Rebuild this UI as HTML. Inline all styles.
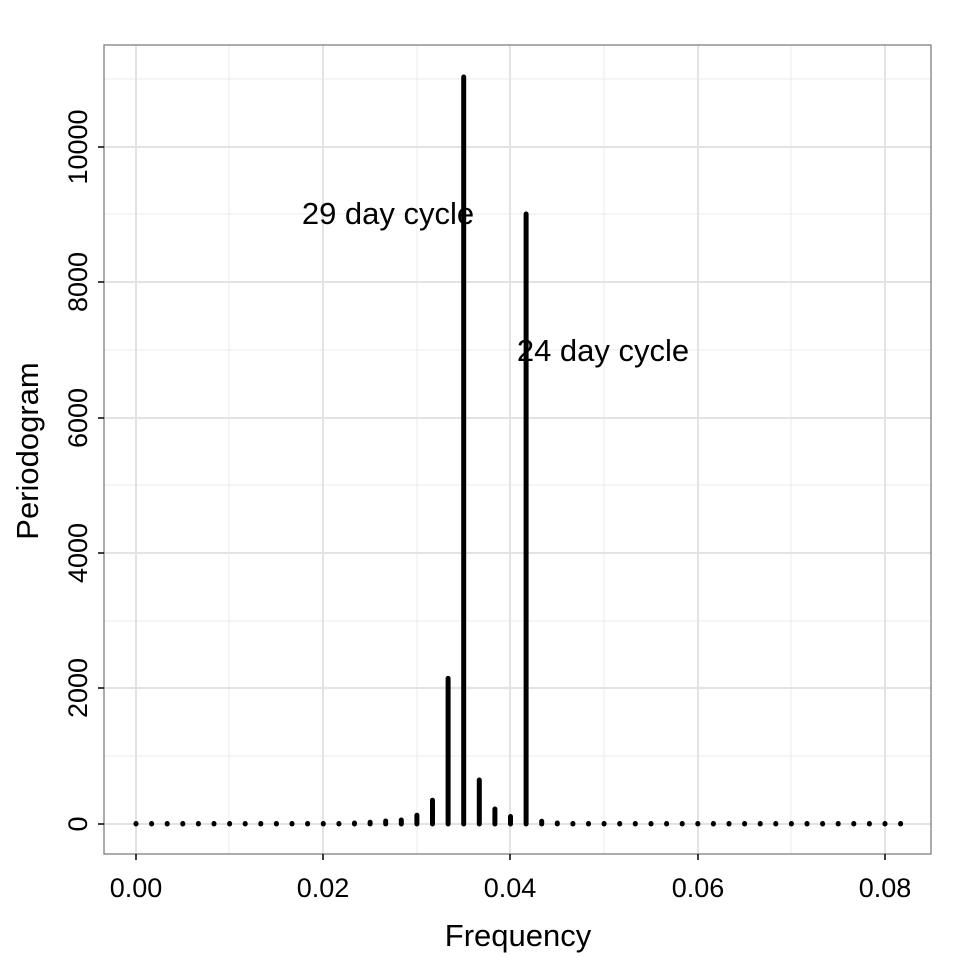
<!DOCTYPE html>
<html><head><meta charset="utf-8"><style>body{margin:0;background:#fff}</style></head><body>
<svg width="960" height="960" xmlns="http://www.w3.org/2000/svg" font-family="Liberation Sans, Arial, sans-serif">
<rect width="960" height="960" fill="#fff"/>
<g stroke="#ebebeb" stroke-width="1">
<line x1="104" x2="931" y1="756" y2="756"/><line x1="104" x2="931" y1="621" y2="621"/><line x1="104" x2="931" y1="485" y2="485"/><line x1="104" x2="931" y1="350" y2="350"/><line x1="104" x2="931" y1="214" y2="214"/><line x1="104" x2="931" y1="79" y2="79"/>
<line x1="229" x2="229" y1="45" y2="854"/><line x1="417" x2="417" y1="45" y2="854"/><line x1="604" x2="604" y1="45" y2="854"/><line x1="791" x2="791" y1="45" y2="854"/>
</g>
<g stroke="#e3e3e3" stroke-width="2">
<line x1="104" x2="931" y1="824" y2="824"/><line x1="104" x2="931" y1="688" y2="688"/><line x1="104" x2="931" y1="553" y2="553"/><line x1="104" x2="931" y1="418" y2="418"/><line x1="104" x2="931" y1="282" y2="282"/><line x1="104" x2="931" y1="147" y2="147"/>
<line x1="136" x2="136" y1="45" y2="854"/><line x1="323" x2="323" y1="45" y2="854"/><line x1="510" x2="510" y1="45" y2="854"/><line x1="698" x2="698" y1="45" y2="854"/><line x1="885" x2="885" y1="45" y2="854"/>
</g>
<g stroke="#000" stroke-width="5" stroke-linecap="round">
<line x1="136.0" x2="136.0" y1="824" y2="823.5"/><line x1="151.6" x2="151.6" y1="824" y2="823.5"/><line x1="167.2" x2="167.2" y1="824" y2="823.5"/><line x1="182.8" x2="182.8" y1="824" y2="823.5"/><line x1="198.4" x2="198.4" y1="824" y2="823.5"/><line x1="214.0" x2="214.0" y1="824" y2="823.5"/><line x1="229.6" x2="229.6" y1="824" y2="823.5"/><line x1="245.2" x2="245.2" y1="824" y2="823.5"/><line x1="260.8" x2="260.8" y1="824" y2="823.5"/><line x1="276.4" x2="276.4" y1="824" y2="823.5"/><line x1="292.0" x2="292.0" y1="824" y2="823.5"/><line x1="307.6" x2="307.6" y1="824" y2="823.5"/><line x1="323.3" x2="323.3" y1="824" y2="823.5"/><line x1="338.9" x2="338.9" y1="824" y2="823.5"/><line x1="354.5" x2="354.5" y1="824" y2="823"/><line x1="370.1" x2="370.1" y1="824" y2="822.3"/><line x1="385.7" x2="385.7" y1="824" y2="821"/><line x1="401.3" x2="401.3" y1="824" y2="820"/><line x1="416.9" x2="416.9" y1="824" y2="815.2"/><line x1="432.5" x2="432.5" y1="824" y2="800.3"/><line x1="448.1" x2="448.1" y1="824" y2="678.4"/><line x1="463.7" x2="463.7" y1="824" y2="77"/><line x1="479.3" x2="479.3" y1="824" y2="780"/><line x1="494.9" x2="494.9" y1="824" y2="809"/><line x1="510.5" x2="510.5" y1="824" y2="816.5"/><line x1="526.1" x2="526.1" y1="824" y2="214"/><line x1="541.7" x2="541.7" y1="824" y2="821.3"/><line x1="557.3" x2="557.3" y1="824" y2="823"/><line x1="572.9" x2="572.9" y1="824" y2="823.5"/><line x1="588.5" x2="588.5" y1="824" y2="823.5"/><line x1="604.1" x2="604.1" y1="824" y2="823.5"/><line x1="619.7" x2="619.7" y1="824" y2="823.5"/><line x1="635.3" x2="635.3" y1="824" y2="823.5"/><line x1="651.0" x2="651.0" y1="824" y2="823.5"/><line x1="666.6" x2="666.6" y1="824" y2="823.5"/><line x1="682.2" x2="682.2" y1="824" y2="823.5"/><line x1="697.8" x2="697.8" y1="824" y2="823.5"/><line x1="713.4" x2="713.4" y1="824" y2="823.5"/><line x1="729.0" x2="729.0" y1="824" y2="823.5"/><line x1="744.6" x2="744.6" y1="824" y2="823.5"/><line x1="760.2" x2="760.2" y1="824" y2="823.5"/><line x1="775.8" x2="775.8" y1="824" y2="823.5"/><line x1="791.4" x2="791.4" y1="824" y2="823.5"/><line x1="807.0" x2="807.0" y1="824" y2="823.5"/><line x1="822.6" x2="822.6" y1="824" y2="823.5"/><line x1="838.2" x2="838.2" y1="824" y2="823.5"/><line x1="853.8" x2="853.8" y1="824" y2="823.5"/><line x1="869.4" x2="869.4" y1="824" y2="823.5"/><line x1="885.0" x2="885.0" y1="824" y2="823.5"/><line x1="900.6" x2="900.6" y1="824" y2="823.5"/>
</g>
<rect x="104" y="45" width="827" height="809" fill="none" stroke="#7f7f7f" stroke-width="1.3"/>
<g stroke="#000" stroke-width="1.5">
<line x1="98" x2="104" y1="824" y2="824"/><line x1="98" x2="104" y1="688" y2="688"/><line x1="98" x2="104" y1="553" y2="553"/><line x1="98" x2="104" y1="418" y2="418"/><line x1="98" x2="104" y1="282" y2="282"/><line x1="98" x2="104" y1="147" y2="147"/>
<line x1="136" x2="136" y1="854" y2="860"/><line x1="323" x2="323" y1="854" y2="860"/><line x1="510" x2="510" y1="854" y2="860"/><line x1="698" x2="698" y1="854" y2="860"/><line x1="885" x2="885" y1="854" y2="860"/>
</g>
<g font-size="27" fill="#000" text-anchor="middle">
<text x="136" y="897">0.00</text><text x="323" y="897">0.02</text><text x="510" y="897">0.04</text><text x="698" y="897">0.06</text><text x="885" y="897">0.08</text>
<text transform="translate(87,824) rotate(-90)">0</text><text transform="translate(87,688) rotate(-90)">2000</text><text transform="translate(87,553) rotate(-90)">4000</text><text transform="translate(87,418) rotate(-90)">6000</text><text transform="translate(87,282) rotate(-90)">8000</text><text transform="translate(87,147) rotate(-90)">10000</text>
</g>
<text x="518" y="946" font-size="31" text-anchor="middle">Frequency</text>
<text transform="translate(38,451) rotate(-90)" font-size="31" text-anchor="middle">Periodogram</text>
<text x="388" y="224" font-size="31" text-anchor="middle">29 day cycle</text>
<text x="603" y="361" font-size="31" text-anchor="middle">24 day cycle</text>
</svg>
</body></html>
